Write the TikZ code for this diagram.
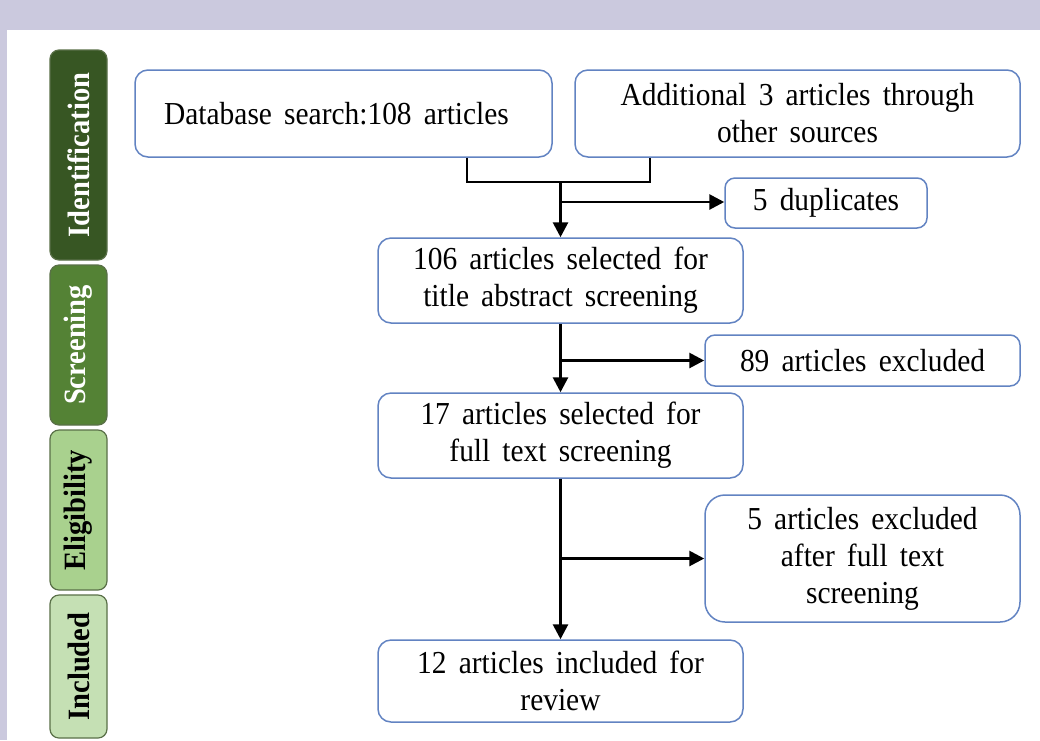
\documentclass[tikz,border=0pt]{standalone}
\usepackage{fontspec}
\setmainfont{Liberation Serif}[FakeStretch=0.92, WordSpace=1.65]
\usetikzlibrary{arrows.meta}
\definecolor{lav}{HTML}{CBC9DE}
\definecolor{gA}{HTML}{375623}
\definecolor{gB}{HTML}{548235}
\definecolor{gC}{HTML}{A9D18E}
\definecolor{gD}{HTML}{C5E0B4}
\definecolor{gbd}{HTML}{5A7048}
\definecolor{bbd}{HTML}{6283C2}
\tikzset{
  phase/.style={draw=gbd, line width=1.2pt, rounded corners=9pt, minimum height=57pt, inner sep=0pt,
    font=\fontsize{31}{34}\selectfont\bfseries, rotate=90, anchor=center},
  flowbox/.style={draw=bbd, line width=1.5pt, rounded corners=13pt, fill=white, inner sep=2pt,
    align=center, font=\fontsize{32}{37}\selectfont},
  conn/.style={line width=2.8pt, draw=black},
  arr/.style={conn, -{Triangle[length=15pt,width=15pt]}},
}
\begin{document}
\begin{tikzpicture}[x=1pt,y=1pt]
\useasboundingbox (0,0) rectangle (1040,-740);
\fill[lav] (0,0) rectangle (1040,-740);
\fill[white] (7,-30) rectangle (1040,-740);
% phase bars
\node[phase, fill=gA, text=white, minimum width=210pt] (pid) at (78.5,-155) {Identification};
\node[phase, fill=gB, text=white, minimum width=160pt] (psc) at (78.5,-345) {Screening};
\node[phase, fill=gC, text=black, minimum width=160pt] (pel) at (78.5,-510) {Eligibility};
\node[phase, fill=gD, text=black, minimum width=143pt] (pin) at (78.5,-666.5) {Included};
% boxes
\node[flowbox, minimum width=417pt, minimum height=87pt] (db) at (343.5,-113.5) {\hspace*{-14pt}Database search:108 articles};
\node[flowbox, minimum width=445pt, minimum height=87pt] (add) at (797.5,-113.5) {Additional 3 articles through\\other sources};
\node[flowbox, minimum width=202pt, minimum height=50pt, rounded corners=10pt] (dup) at (826,-203) {5 duplicates};
\node[flowbox, minimum width=365pt, minimum height=85pt] (s106) at (560.5,-280.5) {106 articles selected for\\title abstract screening};
\node[flowbox, minimum width=315pt, minimum height=51pt, rounded corners=10pt] (ex89) at (862.5,-360.5) {89 articles excluded};
\node[flowbox, minimum width=365pt, minimum height=85pt] (s17) at (560.5,-435.5) {17 articles selected for\\full text screening};
\node[flowbox, minimum width=315pt, minimum height=127pt, rounded corners=20pt] (ex5) at (862.5,-558.5) {5 articles excluded\\after full text\\screening};
\node[flowbox, minimum width=365pt, minimum height=82pt] (inc) at (560.5,-681) {12 articles included for\\review};
% connectors
\coordinate (jl) at (467,-182);
\coordinate (jr) at (650,-182);
\coordinate (jm) at (560.5,-182);
\coordinate (b1) at (560.5,-202);
\coordinate (b2) at (560.5,-360.5);
\coordinate (b3) at (560.5,-558.5);
\draw[conn] (db.south -| jl) -- (jl) -- (jr) -- (add.south -| jr);
\draw[arr] (jm) -- (s106.north);
\draw[arr] (b1) -- (b1 -| dup.west);
\draw[arr] (s106.south) -- (s17.north);
\draw[arr] (b2) -- (ex89.west);
\draw[arr] (s17.south) -- (inc.north);
\draw[arr] (b3) -- (ex5.west);
\end{tikzpicture}
\end{document}
